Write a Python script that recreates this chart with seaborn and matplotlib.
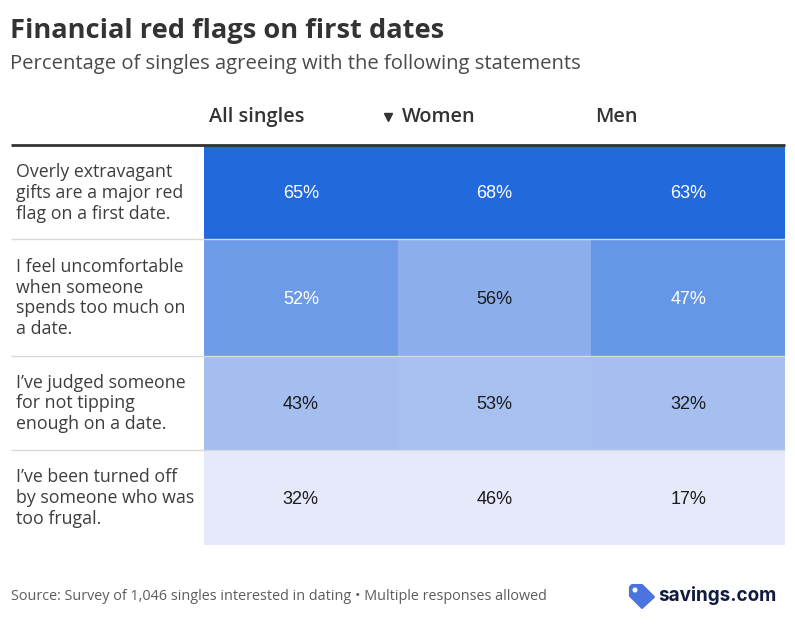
import numpy as np
import pandas as pd
import matplotlib
matplotlib.use("Agg")
import matplotlib.pyplot as plt
from matplotlib.colors import LinearSegmentedColormap
from matplotlib.patches import Polygon, Circle
import seaborn as sns

title = "Financial red flags on first dates"
subtitle = "Percentage of singles agreeing with the following statements"
source = "Source: Survey of 1,046 singles interested in dating • Multiple responses allowed"
columns = ["All singles", "Women", "Men"]
statements = [
    "Overly extravagant\ngifts are a major red\nflag on a first date.",
    "I feel uncomfortable\nwhen someone\nspends too much on\na date.",
    "I’ve judged someone\nfor not tipping\nenough on a date.",
    "I’ve been turned off\nby someone who was\ntoo frugal.",
]
all_singles = [65, 52, 43, 32]
women = [68, 56, 53, 46]
men = [63, 47, 32, 17]

FONT = "Open Sans"
plt.rcParams["font.family"] = [FONT, "DejaVu Sans"]
W, H = 795, 630
fig = plt.figure(figsize=(W / 100, H / 100), dpi=100, facecolor="white")

bg = fig.add_axes([0, 0, 1, 1], zorder=5)
bg.set_xlim(0, W); bg.set_ylim(H, 0); bg.axis("off"); bg.patch.set_alpha(0)

df = pd.DataFrame({"All singles": all_singles, "Women": women, "Men": men})
norm = (df - df.min()) / (df.max() - df.min())
cmap = LinearSegmentedColormap.from_list("blues", ["#E5E9FA", "#2269DB"])

edges = [146, 239, 356, 450, 545]
x0, x1 = 204, 785
for i in range(4):
    top, bot = edges[i], edges[i + 1]
    ax = fig.add_axes([x0 / W, 1 - bot / H, (x1 - x0) / W, (bot - top) / H])
    labels = np.array([[f"{v}%" for v in df.iloc[i]]])
    sns.heatmap(norm.iloc[[i]], ax=ax, cmap=cmap, vmin=0, vmax=1, cbar=False,
                annot=labels, fmt="", xticklabels=False, yticklabels=False,
                annot_kws={"fontsize": 13, "family": "Liberation Sans"})
    ax.set_xlabel(""); ax.set_ylabel("")
    for t, col in zip(ax.texts, columns):
        t.set_color("white" if norm[col].iloc[i] > 0.5 else "#1a1a1a")
        t.set_y(t.get_position()[1] + 1.5 / (bot - top))
    bg.text(16, (top + bot) / 2 + 0.5, statements[i], fontsize=12.8, color="#3d3d3d",
            va="center", ha="left", linespacing=1.19)

bg.plot([11, 785], [145, 145], color="#333333", lw=2, solid_capstyle="butt")
for y in edges[1:4]:
    bg.plot([11, 785], [y, y], color="#d9d9d9", lw=1, solid_capstyle="butt")

for x, name in zip([209, 402, 595.5], columns):
    bg.text(x, 117, name, fontsize=14.3, fontweight="semibold", color="#333333", va="center", ha="left")
bg.plot([388], [116.5], marker="v", ms=5.5, color="#333333", ls="none")

bg.text(10, 31, title, fontsize=19.6, fontweight="bold", color="#333333", va="center", ha="left")
bg.text(10, 64, subtitle, fontsize=14.6, color="#4a4a4a", va="center", ha="left")
bg.text(11, 597, source, fontsize=10.38, color="#5c5c5c", va="center", ha="left")

bg.add_patch(Polygon([(630, 587), (632, 585), (642, 585), (654, 597), (642, 608), (630, 596)],
                     closed=True, color="#4B73DE", joinstyle="round", lw=1.5))
bg.add_patch(Circle((635, 590), 1.8, color="white", zorder=6))
bg.text(658, 595.5, "savings.com", fontsize=13.6, fontweight="bold", family="Inter", color="#111B3F", va="center", ha="left")

fig.savefig("out.png", dpi=100)
